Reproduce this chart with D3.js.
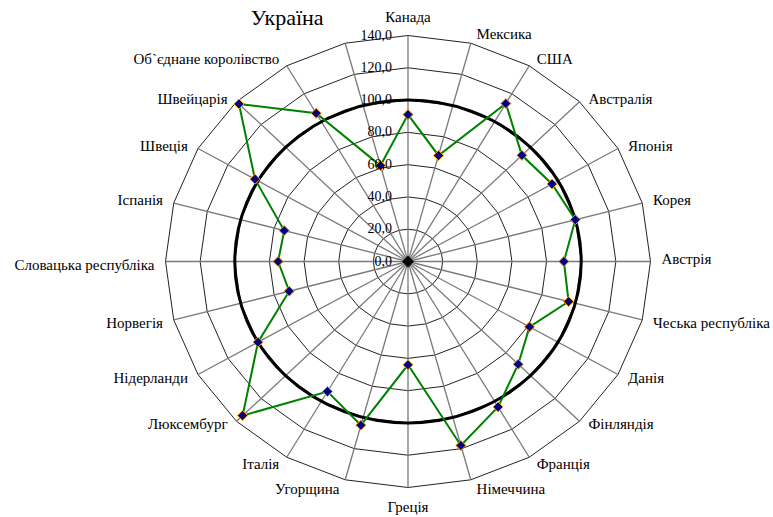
<!DOCTYPE html>
<html><head><meta charset="utf-8">
<script src="https://cdn.jsdelivr.net/npm/d3@7"></script>
<style>
body{margin:0;background:#fff}
#wrap{position:relative;width:773px;height:517px;overflow:hidden}
svg{display:block;position:absolute;left:0;top:0}
.lbl{position:absolute;white-space:nowrap;font-family:'Liberation Serif';font-size:13px;line-height:1;color:#000}
</style>
</head><body>
<div id="wrap"><svg id="c" width="773" height="517"></svg></div>
<script>
const categories = ["Канада","Мексика","США","Австралія","Японія","Корея","Австрія","Чеська республіка","Данія","Фінляндія","Франція","Німеччина","Греція","Угорщина","Італія","Люксембург","Нідерланди","Норвегія","Словацька республіка","Іспанія","Швеція","Швейцарія","Об`єднане королівство","Україна"];
const values = [91,68,113,93,96,100,90,96,81,90,104,118,64,105,93,135,100,71,75,74,102,138,106,61.5];
const referenceValue = 100;
const ticks = [0,20,40,60,80,100,120,140];
const tickLabels = ["0,0","20,0","40,0","60,0","80,0","100,0","120,0","140,0"];
const highlighted = "Україна";

const svg = d3.select("#c");
const wrap = d3.select("#wrap");
const cx = 408, cy = 261.5;
const sx = d3.scaleLinear().domain([0,140]).range([0,242.5]);
const sy = d3.scaleLinear().domain([0,140]).range([0,226]);
const ang = d3.scaleLinear().domain([0,categories.length]).range([0,2*Math.PI]);
const px = (i,v)=> cx + sx(v)*Math.sin(ang(i));
const py = (i,v)=> cy - sy(v)*Math.cos(ang(i));

function label(text, x, y, anchor, size){
  const tx = anchor==="start" ? "0" : anchor==="end" ? "-100%" : "-50%";
  wrap.append("div").attr("class","lbl")
    .style("left", x+"px").style("top", y+"px")
    .style("font-size", size+"px")
    .style("transform", `translate(${tx},-50%)`)
    .text(text);
}

// rings
ticks.filter(t=>t>0).forEach(t=>{
  svg.append("polygon")
    .attr("points", categories.map((c,i)=>[px(i,t),py(i,t)].join(",")).join(" "))
    .attr("fill","none").attr("stroke","#222").attr("stroke-width",1);
});
// spokes
categories.forEach((c,i)=>{
  svg.append("line").attr("x1",cx).attr("y1",cy).attr("x2",px(i,140)).attr("y2",py(i,140))
    .attr("stroke","#7a7a7a").attr("stroke-width",1.3);
});
// reference ellipse
svg.append("ellipse").attr("cx",cx).attr("cy",cy).attr("rx",sx(referenceValue)).attr("ry",sy(referenceValue))
  .attr("fill","none").attr("stroke","#000").attr("stroke-width",3);
// center blob
svg.append("path").attr("d",d3.symbol(d3.symbolDiamond2,90)()).attr("transform",`translate(${cx},${cy})`).attr("fill","#000");

// data line
const line = d3.line().x(d=>px(d.i,d.v)).y(d=>py(d.i,d.v)).curve(d3.curveLinearClosed);
const pts = values.map((v,i)=>({i,v}));
svg.append("path").attr("d",line(pts)).attr("fill","none").attr("stroke","#008000").attr("stroke-width",2);
svg.selectAll(".m").data(pts).enter().append("path")
  .attr("d",d3.symbol(d3.symbolDiamond2,64)())
  .attr("transform",d=>`translate(${px(d.i,d.v)},${py(d.i,d.v)})`)
  .attr("fill","#000080").attr("stroke","#ff9900").attr("stroke-width",1);

// tick labels
ticks.forEach((t,k)=> label(tickLabels[k], cx-16, cy-sy(t), "end", 14));

// category labels
categories.forEach((c,i)=>{
  const a = ang(i), s = Math.sin(a), co = Math.cos(a);
  const vx = px(i,140), vy = py(i,140);
  let x, y, anchor;
  if (c === highlighted) {
    x = vx - 58; y = vy - 25; anchor = "middle";
  } else if (Math.abs(s) < 0.01) {
    x = vx; y = vy - Math.sign(co)*19; anchor = "middle";
  } else {
    x = vx + Math.sign(s)*(4 + 7*Math.abs(s));
    y = vy - Math.sign(co)*(3 + Math.max(0,Math.abs(co)-0.707)/0.26*6);
    anchor = s > 0 ? "start" : "end";
  }
  label(c, x, y, anchor, c===highlighted ? 22 : 15);
});
</script>
</body></html>
